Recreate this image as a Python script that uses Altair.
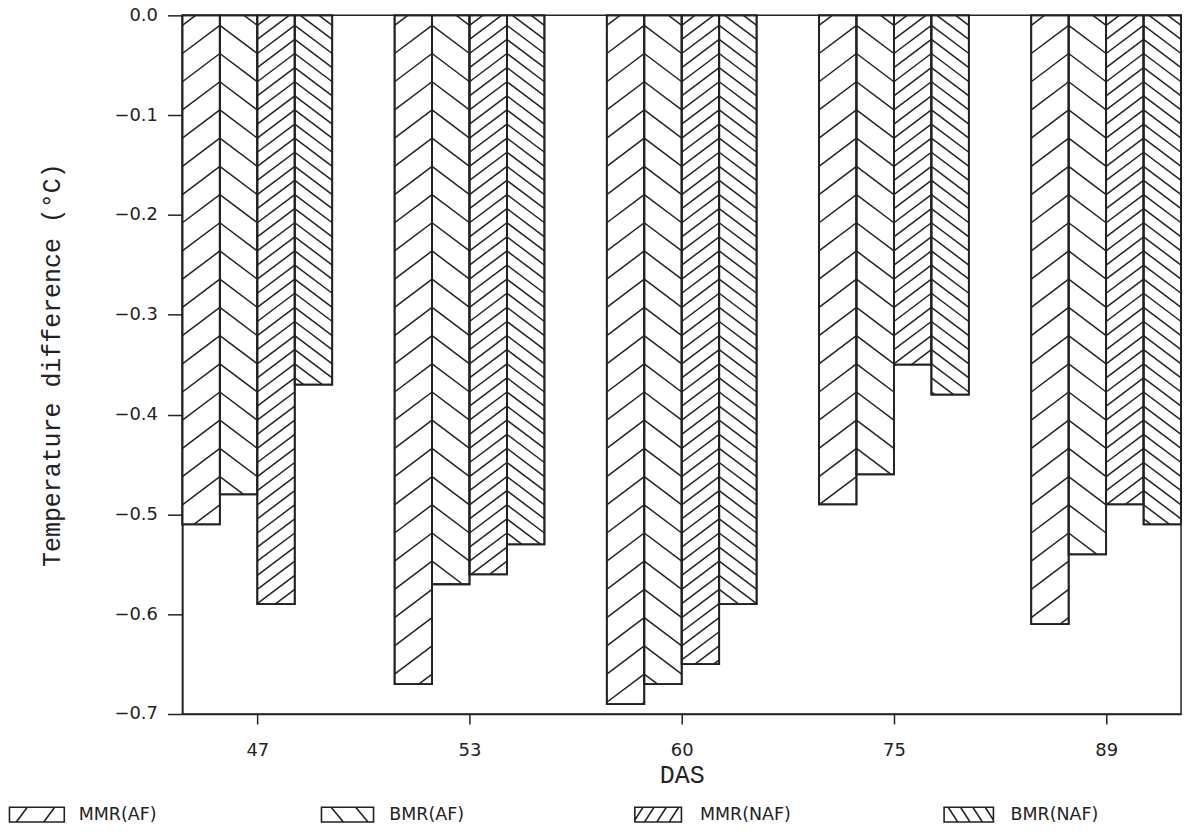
import math
import altair as alt
import pandas as pd

# ---------------- data ----------------
das_labels = ["47", "53", "60", "75", "89"]
series_names = ["MMR(AF)", "BMR(AF)", "MMR(NAF)", "BMR(NAF)"]
mmr_af = [-0.51, -0.67, -0.69, -0.49, -0.61]
bmr_af = [-0.48, -0.57, -0.67, -0.46, -0.54]
mmr_naf = [-0.59, -0.56, -0.65, -0.35, -0.49]
bmr_naf = [-0.37, -0.53, -0.59, -0.38, -0.51]
y_tick_values = [0.0, -0.1, -0.2, -0.3, -0.4, -0.5, -0.6, -0.7]

# ---------------- styling / geometry ----------------
values = [mmr_af, bmr_af, mmr_naf, bmr_naf]
hatch_dir = ["/", "\\", "/", "\\"]
hatch_density = [1, 1, 2, 2]
INK = "#222222"

PLOT_W, PLOT_H = 1002, 701
BAR_W = 0.1765
X_MIN, X_MAX = -2 * BAR_W, len(das_labels) - 1 + 2 * BAR_W
Y_MIN, Y_MAX = -0.7, 0.0
px_x = PLOT_W / (X_MAX - X_MIN)
px_y = PLOT_H / (Y_MAX - Y_MIN)
SPACING = 28.3   # hatch period in px for the sparse pattern
PHASE = 10.0

bar_rows, hatch_rows = [], []
for j, s in enumerate(series_names):
    for i, d in enumerate(das_labels):
        v = values[j][i]
        x0 = i + (j - 2) * BAR_W
        x1 = x0 + BAR_W
        bar_rows.append(dict(das=d, series=s, value=v, x0=x0, x1=x1))
        # hatch lines derived from the bar geometry
        w = BAR_W * px_x
        hb = -v * px_y
        left = (x0 - X_MIN) * px_x
        step = SPACING / hatch_density[j]
        rise = SPACING
        kmin = math.floor((-rise - PHASE) / step) - 1
        kmax = math.ceil((hb - PHASE) / step) + 1
        for k in range(kmin, kmax + 1):
            y0 = PHASE + k * step
            tlo = max(0.0, -y0 / rise)
            thi = min(1.0, (hb - y0) / rise)
            if thi - tlo < 1e-6:
                continue
            pts = []
            for t in (tlo, thi):
                u = w * (1 - t) if hatch_dir[j] == "/" else w * t
                py = y0 + rise * t
                pts.append((X_MIN + (left + u) / px_x, -py / px_y))
            hatch_rows.append(dict(series=s, hx=pts[0][0], hy=pts[0][1],
                                   hx2=pts[1][0], hy2=pts[1][1]))

bars_df = pd.DataFrame(bar_rows)
hatch_df = pd.DataFrame(hatch_rows)

label_expr = "[" + ",".join("'%s'" % d for d in das_labels) + "][datum.value]"

x_scale = alt.Scale(domain=[X_MIN, X_MAX], nice=False, zero=False)
y_scale = alt.Scale(domain=[Y_MIN, Y_MAX], nice=False, zero=False)

x_axis = alt.Axis(values=list(range(len(das_labels))), labelExpr=label_expr,
                  title="DAS", grid=False, tickSize=10, labelPadding=18,
                  titlePadding=3, labelFont="DejaVu Sans", labelFontSize=18,
                  titleFont="Liberation Mono", titleFontSize=25,
                  titleFontWeight="normal", labelColor=INK, titleColor=INK,
                  domainColor=INK, tickColor=INK, domainWidth=1.5, tickWidth=1.5)
y_axis = alt.Axis(values=y_tick_values, format=".1f",
                  title="Temperature difference (°C)", grid=False, tickSize=15,
                  labelPadding=10, titlePadding=50, labelFont="DejaVu Sans",
                  labelFontSize=18, titleFont="Liberation Mono", titleFontSize=25,
                  titleFontWeight="normal", labelColor=INK, titleColor=INK,
                  domainColor=INK, tickColor=INK, domainWidth=1.5, tickWidth=1.5)

bars = alt.Chart(bars_df).mark_rect(fill="white", stroke=INK, strokeWidth=1.8).encode(
    x=alt.X("x0:Q", scale=x_scale, axis=x_axis),
    x2="x1:Q",
    y=alt.Y("value:Q", scale=y_scale, axis=y_axis),
    y2=alt.datum(0),
)

hatch = alt.Chart(hatch_df).mark_rule(color=INK, strokeWidth=1.5).encode(
    x=alt.X("hx:Q", scale=x_scale, axis=x_axis),
    x2="hx2:Q",
    y=alt.Y("hy:Q", scale=y_scale, axis=y_axis),
    y2="hy2:Q",
)

outline = alt.Chart(bars_df).mark_rect(fillOpacity=0, stroke=INK, strokeWidth=1.8).encode(
    x=alt.X("x0:Q", scale=x_scale, axis=x_axis),
    x2="x1:Q",
    y=alt.Y("value:Q", scale=y_scale, axis=y_axis),
    y2=alt.datum(0),
)

main = alt.layer(bars, hatch, outline).properties(
    width=PLOT_W, height=PLOT_H,
    view=alt.ViewBackground(stroke=INK, strokeWidth=1.5),
)

# ---------------- legend row ----------------
swatch_paths = [
    "M-1,-0.27H1V0.27H-1Z M-0.75,0.27L-0.35,-0.27 M0.25,0.27L0.65,-0.27",
    "M-0.95,-0.27H0.95V0.27H-0.95Z M-0.6,-0.27L-0.15,0.27 M0.3,-0.27L0.75,0.27",
    "M-0.85,-0.27H0.85V0.27H-0.85Z M-0.85,0.2L-0.55,-0.27 M-0.5,0.27L-0.15,-0.27 M-0.05,0.27L0.3,-0.27 M0.4,0.27L0.75,-0.27",
    "M-0.9,-0.27H0.9V0.27H-0.9Z M-0.75,-0.27L-0.4,0.27 M-0.3,-0.27L0.05,0.27 M0.15,-0.27L0.5,0.27 M0.6,-0.27L0.9,0.2",
]
legend_df = pd.DataFrame({"series": series_names, "idx": list(range(len(series_names)))})
lx = alt.X("idx:Q", scale=alt.Scale(domain=[0, 3], range=[-146, 789], nice=False, zero=False), axis=None)

legend_pts = alt.Chart(legend_df).mark_point(
    size=3025, filled=False, color=INK, strokeWidth=1.6, opacity=1
).encode(
    x=lx,
    shape=alt.Shape("series:N", scale=alt.Scale(domain=series_names, range=swatch_paths), legend=None),
)
legend_txt = alt.Chart(legend_df).mark_text(
    align="left", dx=42, fontSize=17.5, font="DejaVu Sans", color=INK
).encode(x=lx, text="series:N")

legend = alt.layer(legend_pts, legend_txt).properties(
    width=PLOT_W, height=30, view=alt.ViewBackground(stroke="transparent")
)

chart = alt.vconcat(main, legend, spacing=10).properties(
    padding={"left": 5, "top": 4, "right": 11, "bottom": 5},
    background="white",
)

chart.save("out.html", embed_options={"renderer": "svg", "actions": False})
